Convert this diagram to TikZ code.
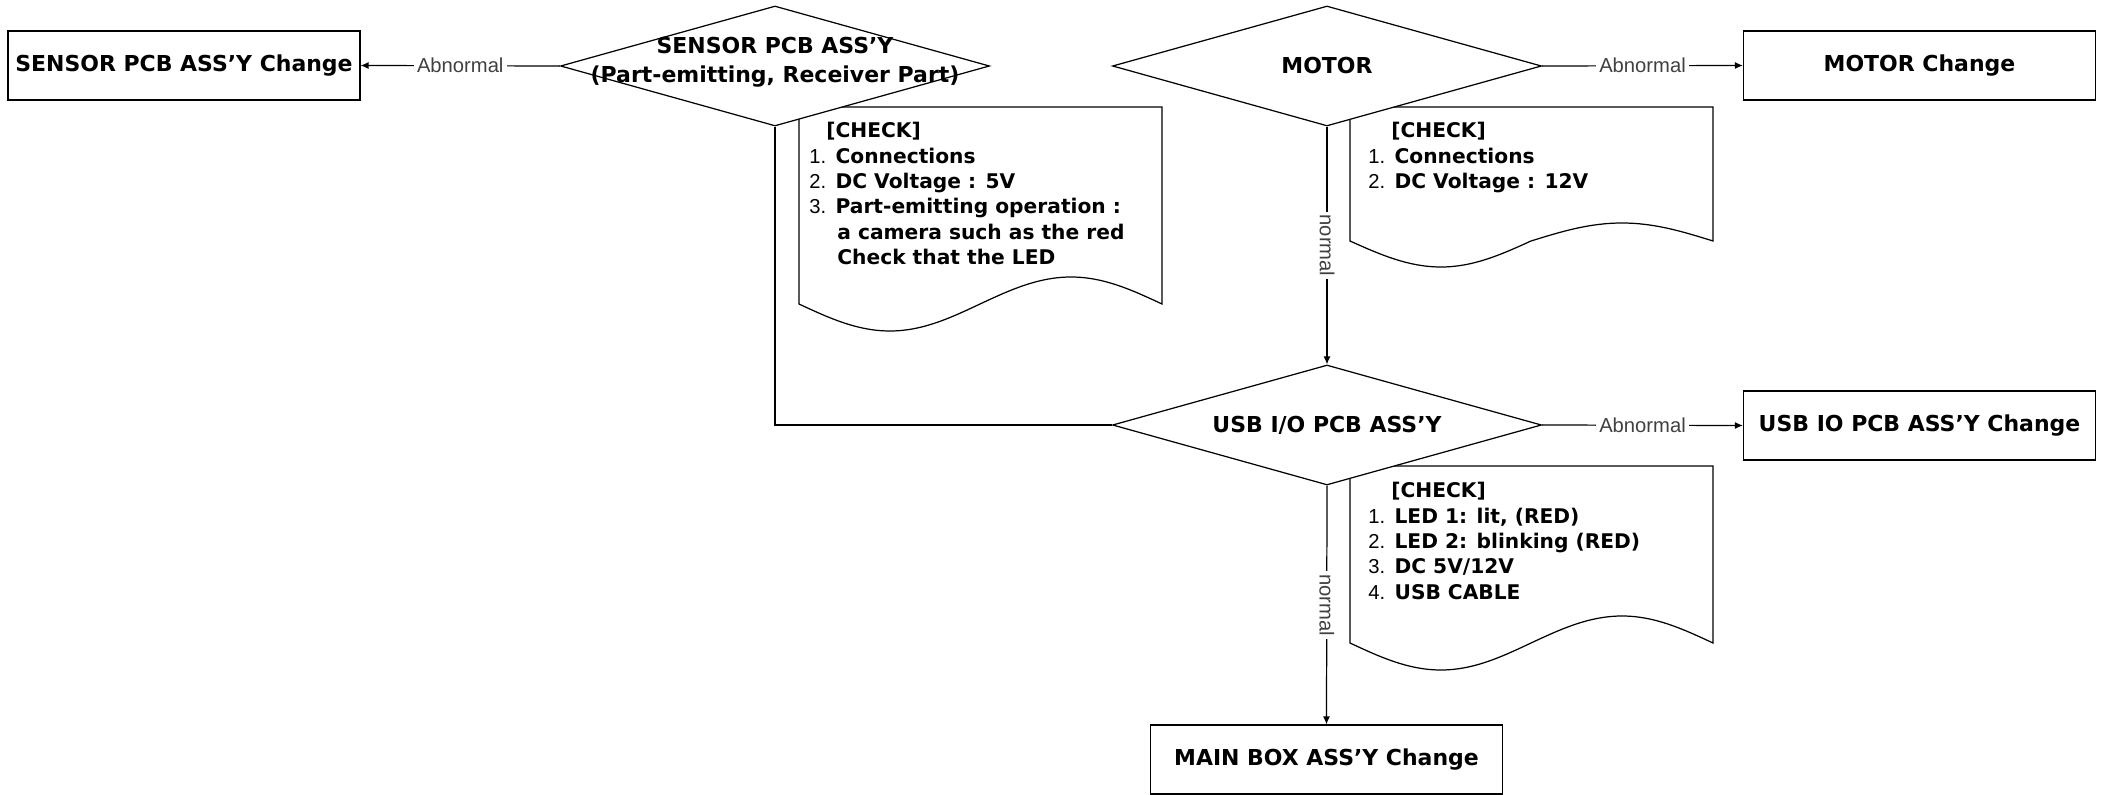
\documentclass[tikz,border=0pt]{standalone}
\usepackage{fontspec}
\setmainfont{DejaVu Sans}
\newfontfamily\lblfont{Liberation Sans}
\usetikzlibrary{arrows.meta,shapes.geometric}
\newcommand{\chknum}[1]{{\lblfont\mdseries #1}}

\begin{document}
\begin{tikzpicture}[x=0.2mm, y=-0.2mm,
    box/.style={draw, line width=0.7pt, minimum width=70.4mm, minimum height=13.8mm, inner sep=0pt, font=\fontsize{12.5}{15}\selectfont\bfseries},
    dec/.style={draw, diamond, fill=white, line width=0.7pt, minimum width=85.8mm, minimum height=24mm, inner sep=0pt},
    dectxt/.style={align=center, inner sep=0pt, font=\fontsize{12.5}{16.5}\selectfont\bfseries},
    doc/.style={draw, line width=0.7pt},
    chk/.style={anchor=north west, align=left, inner sep=0pt, font=\fontsize{11.5}{14.45}\selectfont\bfseries},
    ln/.style={line width=0.7pt},
    arr/.style={-{Latex[length=4.5pt, width=4pt]}, line width=0.7pt},
    lbl/.style={font=\lblfont\fontsize{11.5}{13}\selectfont, text=black!75, fill=white, inner xsep=0.6mm, inner ysep=0.3mm}
]
\useasboundingbox (0,0) rectangle (2105,795);

\draw[doc] (799,304) -- (799,107) -- (1162,107) -- (1162,304) sin (1071,277) cos (980,304) sin (890,331) cos (799,304) -- cycle;
\draw[doc] (1350,241) -- (1350,107) -- (1713,107) -- (1713,241) sin (1622,223) cos (1531,241) sin (1441,267) cos (1350,241) -- cycle;
\draw[doc] (1350,643) -- (1350,466) -- (1713,466) -- (1713,643) sin (1622,616) cos (1531,643) sin (1441,670) cos (1350,643) -- cycle;

\node[chk] (senchk) at (809,122) {\hspace*{3.4mm}[CHECK]\\\chknum{1.} Connections\\\chknum{2.} DC Voltage : 5V\\\chknum{3.} Part-emitting operation :\\\hspace*{5.6mm}a camera such as the red\\\hspace*{5.6mm}Check that the LED};
\node[chk] (motchk) at (1368,122) {\hspace*{4.6mm}[CHECK]\\\chknum{1.} Connections\\\chknum{2.} DC Voltage : 12V};
\node[chk] (usbchk) at (1368,482) {\hspace*{4.6mm}[CHECK]\\\chknum{1.} LED 1: lit, (RED)\\\chknum{2.} LED 2: blinking (RED)\\\chknum{3.} DC 5V/12V\\\chknum{4.} USB CABLE};

\node[dec, label={[dectxt, yshift=0.7mm]center:{SENSOR PCB ASS’Y\\(Part-emitting, Receiver Part)}}] (sensor) at (775,66) {};
\node[dec, label={[dectxt]center:MOTOR}] (motor) at (1327,66) {};
\node[dec, label={[dectxt]center:{USB I/O PCB ASS’Y}}] (usb) at (1327,425) {};

\node[box] (senchg) at (184,65.5) {SENSOR PCB ASS’Y Change};
\node[box] (motchg) at (1919.5,65.5) {MOTOR Change};
\node[box] (usbchg) at (1919.5,425.5) {USB IO PCB ASS’Y Change};
\node[box] (mainchg) at (1326.5,759.5) {MAIN BOX ASS’Y Change};

\draw[arr] (sensor.west) -- node[lbl] {Abnormal} (senchg.east);
\draw[arr] (motor.east) -- node[lbl] {Abnormal} (motchg.west);
\draw[arr] (usb.east) -- node[lbl] {Abnormal} (usbchg.west);
\draw[arr] (motor.south) -- node[lbl, rotate=-90] {normal} (usb.north);
\draw[arr] (usb.south) -- node[lbl, rotate=-90] {normal} (mainchg.north);
\draw[ln] (sensor.south) |- (usb.west);
\end{tikzpicture}
\end{document}
